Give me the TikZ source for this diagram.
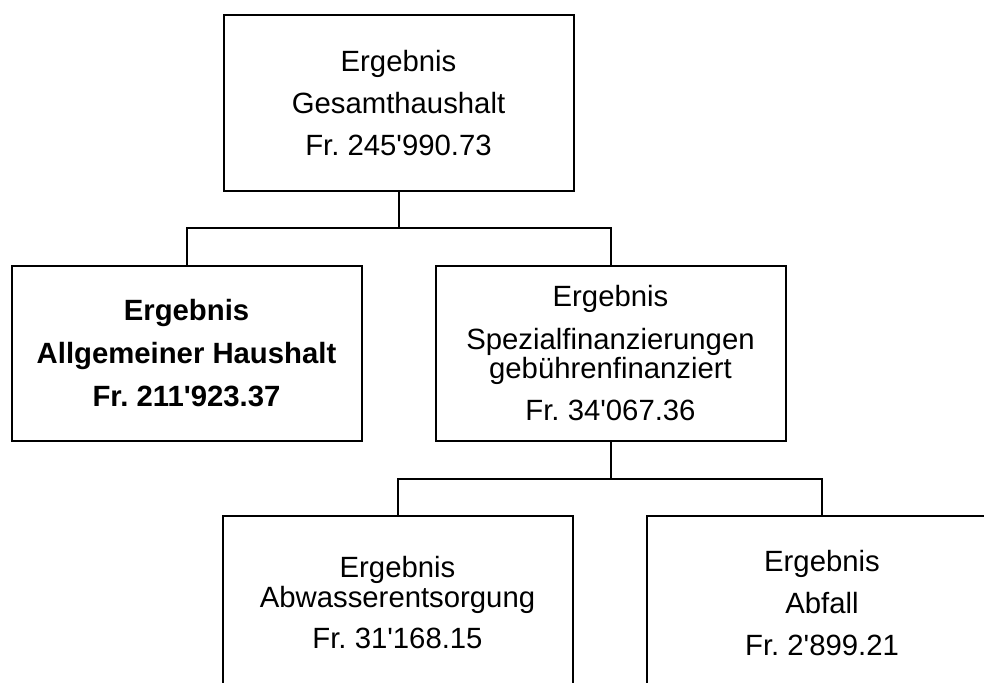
\documentclass[tikz,border=0pt]{standalone}
\usepackage{fontspec}
\setmainfont{Liberation Sans}
\usepackage{tikz}
\usetikzlibrary{positioning}
\newcommand{\ap}{\textquotesingle}
\frenchspacing

\begin{document}
\begin{tikzpicture}[line width=2pt, node distance=73pt]
\tikzstyle{every node}=[font=\fontsize{29.3pt}{42pt}\selectfont]
\tikzstyle{result}=[draw=black, fill=white, align=center, minimum width=350pt, minimum height=175pt, inner sep=0pt]
\path[use as bounding box, clip] (0,0) rectangle (984pt,-682pt);
\node[result] (gesamt) at (398.5pt,-103pt) {Ergebnis\\Gesamthaushalt\\Fr. 245\ap990.73};
\node[result, font=\fontsize{29.3pt}{43pt}\selectfont\bfseries] (allg) [below=of gesamt, xshift=-212pt] {Ergebnis\\Allgemeiner Haushalt\\Fr. 211\ap923.37};
\node[result, font=\fontsize{29.3pt}{43pt}\selectfont] (spezial) [below=of gesamt, xshift=212pt] {Ergebnis\\Spezialfinanzierungen\\[-14.5pt]gebührenfinanziert\\[-1pt]Fr. 34\ap067.36};
\node[result] (abwasser) [below=of spezial, xshift=-213pt] {Ergebnis\\[-12pt]Abwasserentsorgung\\[-1pt]Fr. 31\ap168.15};
\node[result] (abfall) [below=of spezial, xshift=211.5pt] {Ergebnis\\Abfall\\Fr. 2\ap899.21};
% tree connectors
\draw (gesamt.south) -- ++(0,-36.5pt) coordinate (split1);
\draw (allg.north) |- (split1) -| (spezial.north);
\draw (spezial.south) -- ++(0,-37pt) coordinate (split2);
\draw (abwasser.north) |- (split2) -| (abfall.north);
\end{tikzpicture}
\end{document}
